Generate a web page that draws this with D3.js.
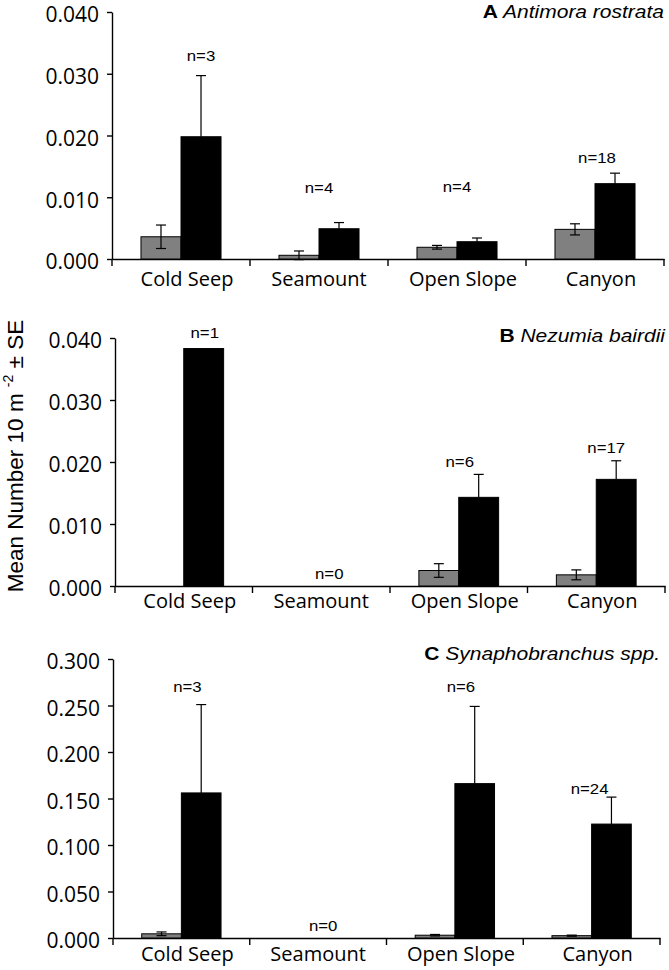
<!DOCTYPE html>
<html>
<head>
<meta charset="utf-8">
<script src="https://cdn.jsdelivr.net/npm/d3@7"></script>
<style>
  body { margin: 0; background: #fff; }
  .axis path, .axis line { stroke: #000; stroke-width: 1.4px; }
</style>
</head>
<body>
<div id="chart-area"></div>
<script>
// Habitat categories (shared by all three panels)
var categories = ["Cold Seep", "Seamount", "Open Slope", "Canyon"];

// A  Antimora rostrata
var greyA = [0.0036, 0.0006, 0.0019, 0.0048];
var greySeA = [0.0019, 0.0007, 0.0003, 0.0009];
var blackA = [0.0198, 0.0049, 0.0028, 0.0122];
var blackSeA = [0.0099, 0.0010, 0.0006, 0.0017];
var nA = ["n=3", "n=4", "n=4", "n=18"];
var ticksA = [0, 0.01, 0.02, 0.03, 0.04];

// B  Nezumia bairdii
var greyB = [null, null, 0.0025, 0.0018];
var greySeB = [null, null, 0.0011, 0.0008];
var blackB = [0.0383, null, 0.0143, 0.0172];
var blackSeB = [null, null, 0.0037, 0.0030];
var nB = ["n=1", "n=0", "n=6", "n=17"];
var ticksB = [0, 0.01, 0.02, 0.03, 0.04];

// C  Synaphobranchus spp.
var greyC = [0.0045, null, 0.0030, 0.0025];
var greySeC = [0.0020, null, 0.0008, 0.0006];
var blackC = [0.156, null, 0.166, 0.1225];
var blackSeC = [0.095, null, 0.083, 0.029];
var nC = ["n=3", "n=0", "n=6", "n=24"];
var ticksC = [0, 0.05, 0.10, 0.15, 0.20, 0.25, 0.30];

// Layout of each panel (pixels), kept apart from the data
var panels = [
    { letter: "A", species: "Antimora rostrata",
      grey: greyA, greySe: greySeA, black: blackA, blackSe: blackSeA, n: nA, ticks: ticksA,
      left: 112, right: 664, top: 12, bottom: 259, labelPad: 13, titleY: 17.5,
      nAt: [0.0330, 0.0115, 0.0117, 0.0164], nShift: [20, 0, 0, 2] },
    { letter: "B", species: "Nezumia bairdii",
      grey: greyB, greySe: greySeB, black: blackB, blackSe: blackSeB, n: nB, ticks: ticksB,
      left: 115, right: 665, top: 338, bottom: 586, labelPad: 8, titleY: 341.5,
      nAt: [0.0408, 0.0020, 0.0200, 0.0224], nShift: [21, 8, 1, 10] },
    { letter: "C", species: "Synaphobranchus spp.",
      grey: greyC, greySe: greySeC, black: blackC, blackSe: blackSeC, n: nC, ticks: ticksC,
      left: 113, right: 660, top: 659, bottom: 938, labelPad: 9, titleY: 660,
      nAt: [0.270, 0.0138, 0.270, 0.161], nShift: [6, 5, 6, -2] }
];
var labelShift = [6, 0, 6, 6];

var svg = d3.select("#chart-area").append("svg")
    .attr("width", 669)
    .attr("height", 970);

panels.forEach(drawPanel);

// Y-axis label shared by the panels
var yLabel = svg.append("text")
    .attr("transform", "translate(23,456) rotate(-90)")
    .attr("text-anchor", "middle")
    .attr("font-family", "'Liberation Sans', Arial, sans-serif")
    .attr("font-size", "22.5px")
    .attr("fill", "#000");
yLabel.append("tspan").text("Mean Number 10 m ");
yLabel.append("tspan").attr("dy", -10).attr("font-size", "14px").text("-2");
yLabel.append("tspan").attr("dy", 10).text(" \u00b1 SE");

function drawPanel(p) {
    var g = svg.append("g");

    var x = d3.scaleBand()
        .domain(categories)
        .range([p.left, p.right])
        .padding(0);
    var y = d3.scaleLinear()
        .domain([0, p.ticks[p.ticks.length - 1]])
        .range([p.bottom, p.top]);

    var barW = x.bandwidth() * 0.29;
    var center = function(i) { return x(categories[i]) + x.bandwidth() / 2; };

    // Y axis
    var yAxis = g.append("g")
        .attr("class", "axis")
        .attr("transform", "translate(" + p.left + ",0)")
        .call(d3.axisLeft(y)
            .tickValues(p.ticks)
            .tickFormat(d3.format(".3f"))
            .tickSize(5)
            .tickSizeOuter(0)
            .tickPadding(8));
    yAxis.selectAll("text")
        .attr("dy", "0.47em")
        .attr("font-family", "'Open Sans', sans-serif")
        .attr("font-size", "21px")
        .attr("fill", "#000");

    // X axis: labels under each band, ticks on the band edges
    var xAxis = g.append("g")
        .attr("class", "axis")
        .attr("transform", "translate(0," + p.bottom + ")")
        .call(d3.axisBottom(x)
            .tickSize(0)
            .tickSizeOuter(0)
            .tickPadding(p.labelPad));
    xAxis.selectAll("text")
        .attr("dx", function(d, i) { return labelShift[i]; })
        .attr("font-family", "'Open Sans', sans-serif")
        .attr("font-size", "20px")
        .attr("fill", "#000");

    var edges = categories.map(function(c) { return x(c); }).concat([p.right]);
    g.selectAll(".edge")
        .data(edges)
        .enter().append("line")
        .attr("class", "edge")
        .attr("x1", function(d) { return d; })
        .attr("x2", function(d) { return d; })
        .attr("y1", p.bottom)
        .attr("y2", p.bottom + 7)
        .attr("stroke", "#000")
        .attr("stroke-width", 1.4);

    // Bars
    var series = [
        { vals: p.grey, se: p.greySe, fill: "#808080", off: -1, both: true },
        { vals: p.black, se: p.blackSe, fill: "#000", off: 0, both: false }
    ];

    series.forEach(function(s) {
        var rows = s.vals.map(function(v, i) {
            return { i: i, v: v, se: s.se[i] };
        }).filter(function(d) { return d.v !== null; });

        g.selectAll(null)
            .data(rows)
            .enter().append("rect")
            .attr("x", function(d) { return center(d.i) + s.off * barW; })
            .attr("y", function(d) { return y(d.v); })
            .attr("width", barW)
            .attr("height", function(d) { return y(0) - y(d.v); })
            .attr("fill", s.fill)
            .attr("stroke", "#000")
            .attr("stroke-width", 1);

        var errs = rows.filter(function(d) { return d.se !== null; });
        var mid = function(d) { return center(d.i) + s.off * barW + barW / 2; };

        g.selectAll(null)
            .data(errs)
            .enter().append("line")
            .attr("x1", mid)
            .attr("x2", mid)
            .attr("y1", function(d) { return y(s.both ? d.v - d.se : d.v); })
            .attr("y2", function(d) { return y(d.v + d.se); })
            .attr("stroke", "#000")
            .attr("stroke-width", 1.2);

        var caps = [];
        errs.forEach(function(d) {
            caps.push({ d: d, v: d.v + d.se });
            if (s.both) caps.push({ d: d, v: d.v - d.se });
        });
        g.selectAll(null)
            .data(caps)
            .enter().append("line")
            .attr("x1", function(c) { return mid(c.d) - 5; })
            .attr("x2", function(c) { return mid(c.d) + 5; })
            .attr("y1", function(c) { return y(c.v); })
            .attr("y2", function(c) { return y(c.v); })
            .attr("stroke", "#000")
            .attr("stroke-width", 1.2);
    });

    // Sample sizes
    g.selectAll(".nlab")
        .data(p.n)
        .enter().append("text")
        .attr("class", "nlab")
        .attr("transform", function(d, i) {
            return "translate(" + (center(i) + p.nShift[i]) + "," + y(p.nAt[i]) + ") scale(1.12,1)";
        })
        .attr("dy", "0.36em")
        .attr("text-anchor", "middle")
        .attr("font-family", "'Liberation Sans', Arial, sans-serif")
        .attr("font-size", "15px")
        .attr("fill", "#000")
        .text(function(d) { return d; });

    // Panel title
    var title = g.append("text")
        .attr("transform", "translate(" + p.right + "," + p.titleY + ") scale(1.2,1)")
        .attr("text-anchor", "end")
        .attr("font-family", "'Liberation Sans', Arial, sans-serif")
        .attr("font-size", "17.5px")
        .attr("fill", "#000");
    title.append("tspan").attr("font-weight", "bold").text(p.letter);
    title.append("tspan").attr("font-style", "italic").text(" " + p.species);
}
</script>
</body>
</html>
